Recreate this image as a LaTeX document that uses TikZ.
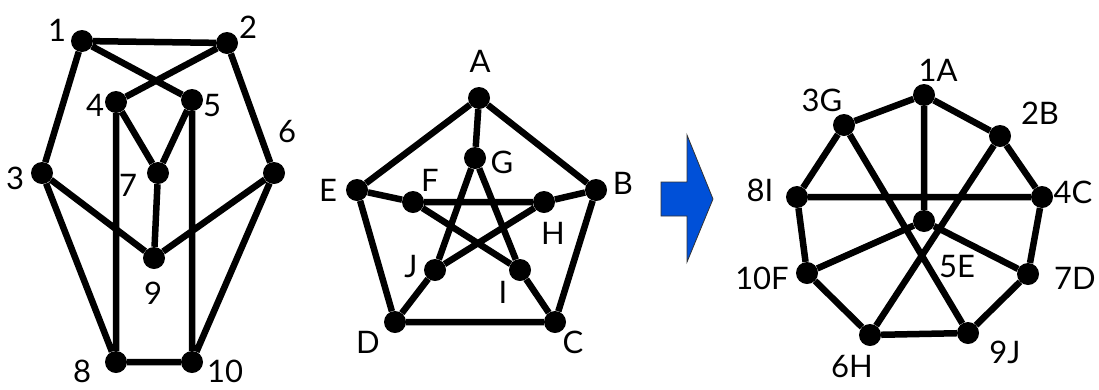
\documentclass[tikz,border=0pt]{standalone}
\usepackage{fontspec}
\setmainfont{Lato}
\begin{document}
\begin{tikzpicture}[x=1pt,y=-1pt,
  vtx/.style={circle,fill=black,inner sep=0pt,minimum size=22pt},
  lbl/.style={inner sep=0pt,font=\fontsize{31}{31}\selectfont},
  edge/.style={line width=6.5pt,black}]
\useasboundingbox (0,0) rectangle (1099,389);

% ---- left graph: vertices 1..10
\node[vtx] (g1) at (82,41) {};
\node[vtx] (g2) at (227,43) {};
\node[vtx] (g3) at (42,173) {};
\node[vtx] (g4) at (116,102) {};
\node[vtx] (g5) at (192,100) {};
\node[vtx] (g6) at (274,173) {};
\node[vtx] (g7) at (158,173) {};
\node[vtx] (g8) at (116,362) {};
\node[vtx] (g9) at (154,258) {};
\node[vtx] (g10) at (192,362) {};
\begin{scope}[edge]
\draw (g1)--(g2) (g1)--(g5) (g2)--(g4) (g1)--(g3) (g2)--(g6)
      (g4)--(g7) (g5)--(g7) (g7)--(g9) (g3)--(g9) (g6)--(g9)
      (g3)--(g8) (g6)--(g10) (g4)--(g8) (g5)--(g10) (g8)--(g10);
\end{scope}
\node[lbl] (t1) at (57,30) {1};
\node[lbl] (t2) at (248,27) {2};
\node[lbl] (t3) at (15,178) {3};
\node[lbl] (t4) at (95,105) {4};
\node[lbl] (t5) at (212,106) {5};
\node[lbl] (t6) at (287,132) {6};
\node[lbl] (t7) at (128,185) {7};
\node[lbl] (t8) at (82,371) {8};
\node[lbl] (t9) at (153,293) {9};
\node[lbl] (t10) at (225,371) {10};

% ---- middle graph: Petersen graph A..J
\node[vtx] (pA) at (479,98) {};
\node[vtx] (pB) at (596,190) {};
\node[vtx] (pC) at (555,322) {};
\node[vtx] (pD) at (395,322) {};
\node[vtx] (pE) at (357,190) {};
\node[vtx] (pF) at (413,202) {};
\node[vtx] (pG) at (475,158) {};
\node[vtx] (pH) at (544,202) {};
\node[vtx] (pI) at (520,270) {};
\node[vtx] (pJ) at (435,270) {};
\begin{scope}[edge]
\draw (pA)--(pB)--(pC)--(pD)--(pE)--(pA)
      (pA)--(pG) (pB)--(pH) (pC)--(pI) (pD)--(pJ) (pE)--(pF)
      (pF)--(pH) (pH)--(pJ) (pJ)--(pG) (pG)--(pI) (pI)--(pF);
\end{scope}
\node[lbl] (tA) at (480,61) {A};
\node[lbl] (tB) at (623,183) {B};
\node[lbl] (tC) at (573,342) {C};
\node[lbl] (tD) at (368,342) {D};
\node[lbl] (tE) at (328,190) {E};
\node[lbl] (tF) at (430,180) {F};
\node[lbl] (tG) at (502,162) {G};
\node[lbl] (tH) at (553,233) {H};
\node[lbl] (tI) at (503,292) {I};
\node[lbl] (tJ) at (411,267) {J};

% ---- block arrow
\fill[fill={rgb,255:red,0;green,80;blue,216},draw=black!80,line width=0.8pt]
  (661,182) -- (687,182) -- (687,135) -- (713,199) -- (687,262) -- (687,216) -- (661,216) -- cycle;

% ---- right graph: relabelled drawing
\node[vtx] (q1) at (924,95) {};
\node[vtx] (q2) at (1000,136) {};
\node[vtx] (q4) at (1042,197) {};
\node[vtx] (q7) at (1028,274) {};
\node[vtx] (q9) at (968,333) {};
\node[vtx] (q6) at (870,335) {};
\node[vtx] (q10) at (807,273) {};
\node[vtx] (q8) at (797,197) {};
\node[vtx] (q3) at (844,125) {};
\node[vtx] (q5) at (924,221) {};
\begin{scope}[edge]
\draw (q1)--(q2)--(q4)--(q7)--(q9)--(q6)--(q10)--(q8)--(q3)--(q1)
      (q1)--(q5) (q5)--(q10) (q5)--(q7) (q3)--(q9) (q2)--(q6) (q8)--(q4);
\end{scope}
\node[lbl] (u1) at (938,70) {1A};
\node[lbl] (u2) at (1040,113) {2B};
\node[lbl] (u3) at (822,100) {3G};
\node[lbl] (u4) at (1073,192) {4C};
\node[lbl] (u5) at (957,267) {5E};
\node[lbl] (u6) at (852,367) {6H};
\node[lbl] (u7) at (1075,278) {7D};
\node[lbl] (u8) at (760,190) {8I};
\node[lbl] (u9) at (1005,352) {9J};
\node[lbl] (u10) at (762,278) {10F};
\end{tikzpicture}
\end{document}
